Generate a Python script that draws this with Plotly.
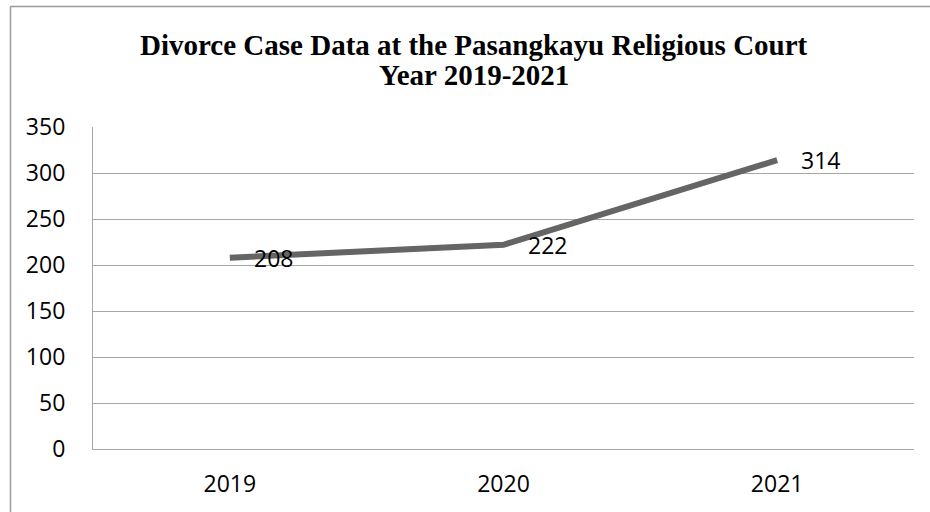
import plotly.graph_objects as go

years = ["2019", "2020", "2021"]
cases = [208, 222, 314]
y_ticks = [0, 50, 100, 150, 200, 250, 300, 350]
title_lines = ["Divorce Case Data at the Pasangkayu Religious Court", "Year 2019-2021"]

W, H = 930, 512
L, R, T, B = 93, 16, 127, 63
pw = W - L - R
ph = H - T - B

def px(x):
    return (x - L) / pw

def py(y):
    return (H - B - y) / ph

SANS = "Open Sans, Liberation Sans, sans-serif"
SERIF = "Liberation Serif, Times New Roman, serif"

fig = go.Figure()
fig.add_trace(go.Scatter(
    x=years, y=cases, mode="lines",
    line=dict(color="#656565", width=6),
    hoverinfo="skip", showlegend=False,
))

for i, v in enumerate(cases):
    fig.add_annotation(x=i, y=v, xref="x", yref="y", text=str(v), showarrow=False,
                       xanchor="left", yanchor="middle", xshift=22,
                       font=dict(family=SANS, size=23, color="#000000"))

for txt, yc in zip(title_lines, [45, 75]):
    fig.add_annotation(x=px(474), y=py(yc), xref="paper", yref="paper", text="<b>%s</b>" % txt,
                       showarrow=False, xanchor="center", yanchor="middle",
                       font=dict(family=SERIF, size=29, color="#000000"))

border = dict(color="#9a9a9a", width=1.5)
fig.add_shape(type="line", xref="paper", yref="paper",
              x0=px(10.5), x1=px(10.5), y0=py(6.5), y1=py(514), line=border)
fig.add_shape(type="line", xref="paper", yref="paper",
              x0=px(10.5), x1=px(932), y0=py(6.5), y1=py(6.5), line=border)

fig.update_layout(
    width=W, height=H,
    margin=dict(l=L, r=R, t=T, b=B),
    paper_bgcolor="white", plot_bgcolor="white",
    xaxis=dict(
        type="category", range=[-0.5, 2.5], showgrid=False,
        showline=True, linecolor="#a6a6a6", linewidth=1.2,
        ticks="", ticklabelstandoff=14,
        tickfont=dict(family=SANS, size=23, color="#000000"),
        fixedrange=True,
    ),
    yaxis=dict(
        range=[0, 350], tickvals=y_ticks, showgrid=True, gridcolor="#a6a6a6", gridwidth=1.2,
        showline=True, linecolor="#a6a6a6", linewidth=1.2, zeroline=False,
        ticks="", ticklabelstandoff=22,
        tickfont=dict(family=SANS, size=23, color="#000000"),
        fixedrange=True,
    ),
)

fig.write_html("out.html")
